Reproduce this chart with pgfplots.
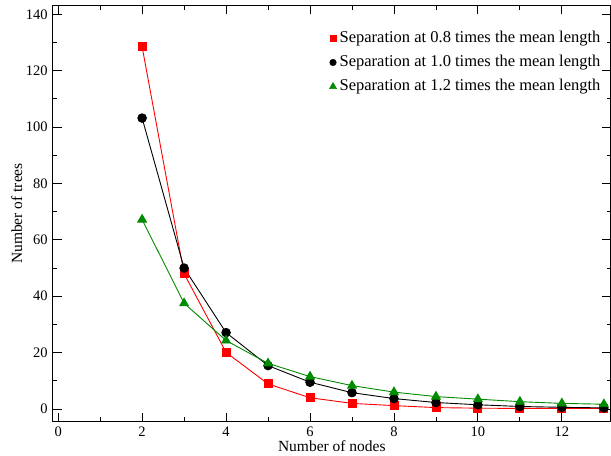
\documentclass[border=0pt]{standalone}
\usepackage{pgfplots}
\pgfplotsset{compat=1.18}
\usepackage{fontspec}
\setmainfont{Liberation Serif}
\definecolor{myred}{RGB}{255,0,0}
\definecolor{mygreen}{RGB}{0,140,0}
\newcommand\tickfont{\fontsize{14.5bp}{16bp}\selectfont}
\newcommand\labfont{\fontsize{15.5bp}{17bp}\selectfont}
\newcommand\legfont{\fontsize{16.5bp}{18bp}\selectfont}
\begin{document}
\tickfont
\begin{tikzpicture}
\useasboundingbox (-52.7bp,-34.3bp) rectangle (558.3bp,421.7bp);
\begin{axis}[at={(0,0)}, anchor=south west, scale only axis,
  width=558.3bp, height=416.4bp,
  xmin=-0.13, xmax=13.17, ymin=-4.5, ymax=143.2,
  xtick={0,2,...,12}, ytick={0,20,...,140},
  minor x tick num=1, minor y tick num=1,
  tick align=inside, major tick length=9bp, minor tick length=4.5bp,
  tick style={black, line width=0.9bp},
  axis line style={line width=1.3bp},
  /pgf/number format/assume math mode=true,
  ticklabel style={font=\tickfont},
  label style={font=\labfont},
  xlabel={Number of nodes}, ylabel={Number of trees},
  xlabel style={at={(axis description cs:0.5,0)}, anchor=north, yshift=-14bp},
  ylabel style={at={(axis description cs:0,0.5)}, anchor=south, yshift=25.3bp},
  legend cell align=left,
  legend image code/.code={\draw[#1] plot coordinates {(0bp,-1bp)};},
  legend style={draw=none, fill=none, at={(axis description cs:0.9885,0.947)}, anchor=north east,
    font=\legfont, row sep=6.5bp, inner sep=1bp,
    nodes={inner xsep=3bp}},
]
\addlegendimage{only marks, myred, mark=square*, mark size=3bp}
\addlegendentry{Separation at 0.8 times the mean length}
\addlegendimage{only marks, black, mark=*, mark size=3.3bp}
\addlegendentry{Separation at 1.0 times the mean length}
\addlegendimage{only marks, mygreen, mark=triangle*, mark size=4.2bp}
\addlegendentry{Separation at 1.2 times the mean length}
\addplot[myred, line width=0.9bp, mark=square*, mark size=4bp, forget plot] coordinates {
(2,128.5) (3,48) (4,20.1) (5,8.9) (6,4.0) (7,2.0) (8,1.2) (9,0.5) (10,0.3) (11,0.2) (12,0.2) (13,0.2)};
\addplot[black, line width=0.9bp, mark=*, mark size=4.3bp, forget plot] coordinates {
(2,103.2) (3,50) (4,27.1) (5,15.4) (6,9.5) (7,5.8) (8,3.7) (9,2.3) (10,1.5) (11,0.9) (12,0.6) (13,0.4)};
\addplot[mygreen, line width=0.9bp, mark=triangle*, mark size=5bp, forget plot] coordinates {
(2,67.2) (3,37.5) (4,24.3) (5,16.2) (6,11.5) (7,8.3) (8,6.0) (9,4.4) (10,3.5) (11,2.6) (12,2.0) (13,1.7)};
\end{axis}
\end{tikzpicture}
\end{document}
